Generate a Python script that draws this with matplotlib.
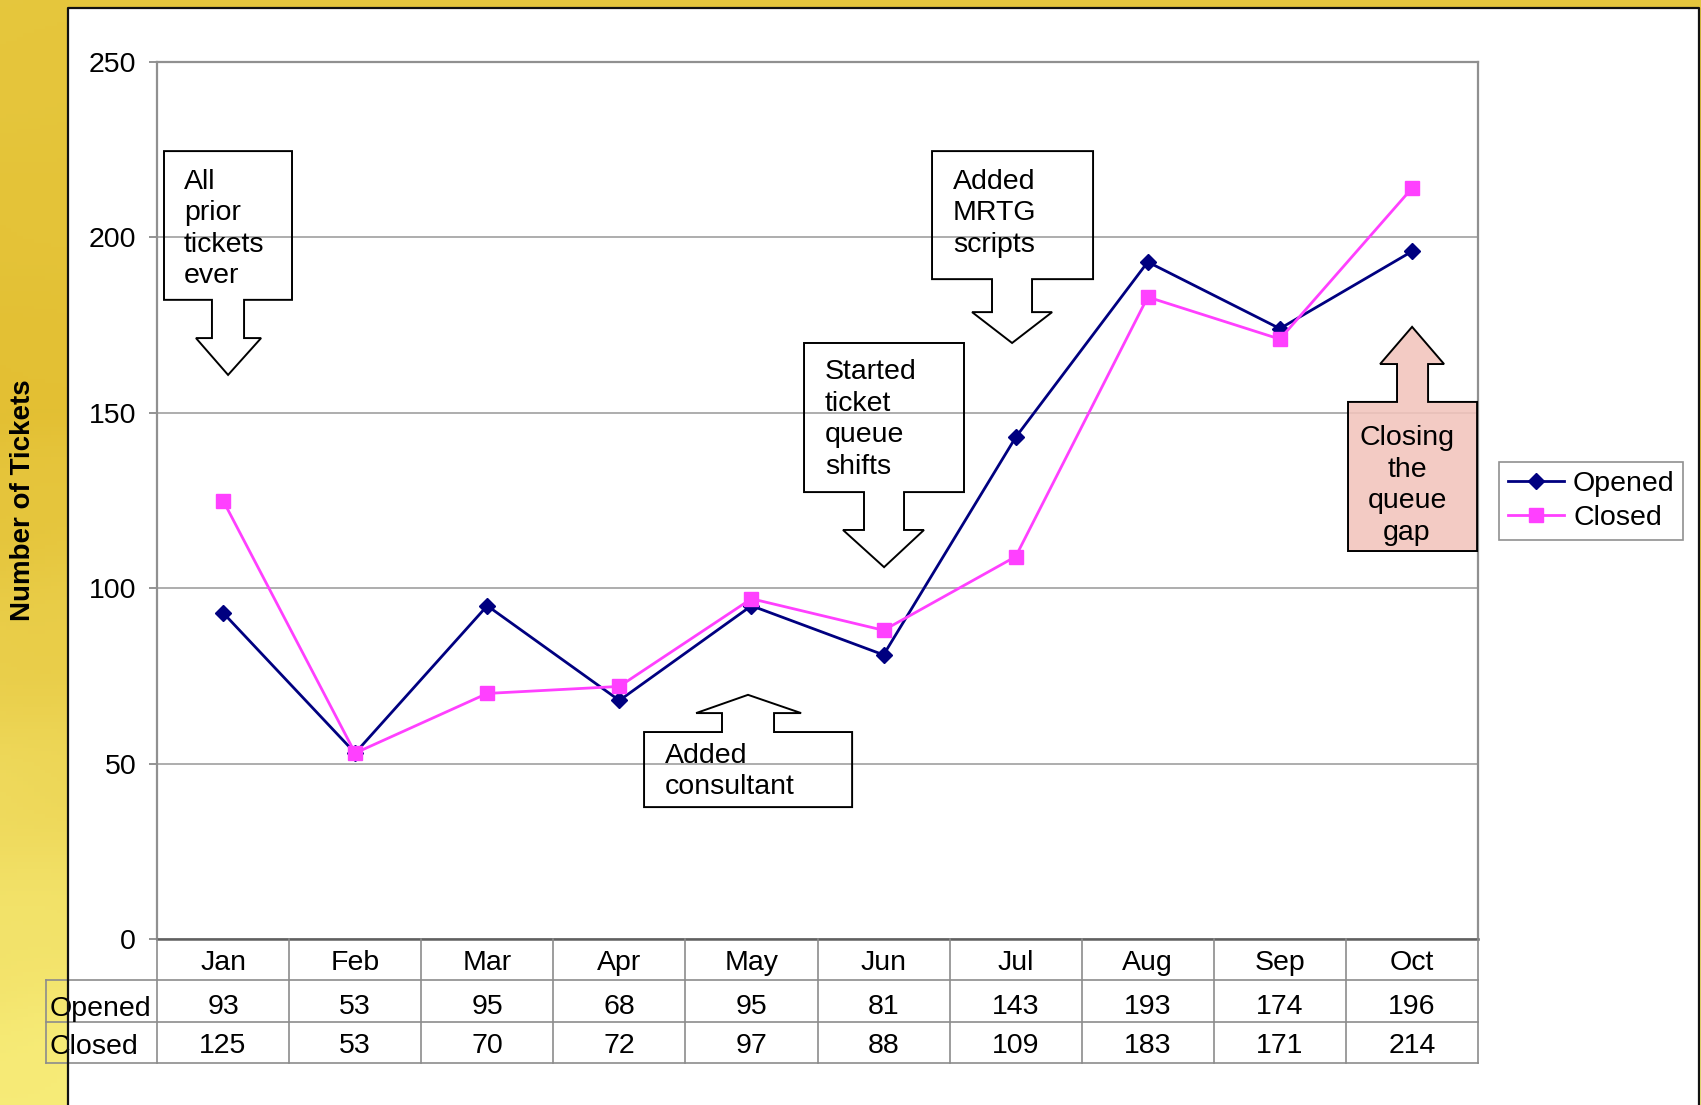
import numpy as np
import matplotlib.pyplot as plt
from matplotlib.patches import Polygon, Rectangle
from matplotlib.lines import Line2D

plt.rcParams['font.family'] = ['Liberation Sans', 'DejaVu Sans']

# data
months = ['Jan', 'Feb', 'Mar', 'Apr', 'May', 'Jun', 'Jul', 'Aug', 'Sep', 'Oct']
opened = [93, 53, 95, 68, 95, 81, 143, 193, 174, 196]
closed = [125, 53, 70, 72, 97, 88, 109, 183, 171, 214]
row_names = ['Opened', 'Closed']

# callout arrows, in data units (x = month index, y = tickets)
# box = (x0, x1, ybottom, ytop), shaft = (s0, s1), head = (h0, h1, y), tip = (x, y)
callouts = [
    dict(text='All\nprior\ntickets\never', box=(-0.447, 0.522, 182.2, 224.6),
         shaft=(-0.084, 0.159), head=(-0.205, 0.288, 171.3), tip=(0.038, 160.8),
         down=True, tx=-0.296, ty=219.6, ha='left', face='none'),
    dict(text='Added\nMRTG\nscripts', box=(5.367, 6.586, 188.1, 224.6),
         shaft=(5.821, 6.124), head=(5.670, 6.276, 178.7), tip=(5.973, 169.9),
         down=True, tx=5.526, ty=219.6, ha='left', face='none'),
    dict(text='Started\nticket\nqueue\nshifts', box=(4.398, 5.609, 127.4, 169.9),
         shaft=(4.852, 5.155), head=(4.693, 5.306, 116.6), tip=(5.004, 106.0),
         down=True, tx=4.557, ty=165.3, ha='left', face='none'),
    dict(text='Added\nconsultant', box=(3.187, 4.762, 37.6, 59.0),
         shaft=(3.777, 4.171), head=(3.581, 4.376, 64.4), tip=(3.974, 69.6),
         down=False, tx=3.346, ty=56.0, ha='left', face='none'),
    dict(text='Closing\nthe\nqueue\ngap', box=(8.516, 9.493, 110.6, 153.1),
         shaft=(8.887, 9.122), head=(8.759, 9.243, 163.9), tip=(9.001, 174.5),
         down=False, tx=8.963, ty=146.5, ha='center', face='#f2c4bc'),
]

W, H = 1701, 1105
fig = plt.figure(figsize=(W / 100, H / 100), dpi=100)
FS = 20.5


def fx(px):
    return px / W


def fy(py):
    return 1 - py / H


# yellow slide background
bg = fig.add_axes([0, 0, 1, 1], zorder=-10)
bg.axis('off')
yy, xx = np.mgrid[0:1:300j, 0:1:300j]
t = yy + 0.03 * np.sin(xx * 23 + yy * 17) * np.cos(yy * 31 - xx * 7)
stops = [0.0, 0.38, 1.0]
cols = np.array([[0.90, 0.78, 0.24], [0.89, 0.75, 0.20], [0.97, 0.93, 0.48]])
img = np.stack([np.interp(t, stops, cols[:, k]) for k in range(3)], axis=-1)
bg.imshow(np.clip(img, 0, 1), extent=[0, 1, 0, 1], aspect='auto')

# white panel with dark border
fig.add_artist(Rectangle((fx(68), 0), fx(1699) - fx(68), fy(8), transform=fig.transFigure,
                         facecolor='white', edgecolor='none', zorder=-5))
fig.add_artist(Line2D([fx(68), fx(68), fx(1699), fx(1699)], [0, fy(8), fy(8), 0],
                      transform=fig.transFigure, color='#111111', lw=1.6, zorder=50))

ax = fig.add_axes([fx(157), fy(939), fx(1478) - fx(157), fy(62) - fy(939)])
ax.set_facecolor('none')
x = np.arange(len(months))
ax.plot(x, opened, color='#000080', marker='D', ms=8, lw=2.0, label='Opened', zorder=4)
ax.plot(x, closed, color='#ff40ff', marker='s', ms=10, lw=2.0, label='Closed', zorder=5)
ax.set_xlim(-0.5, 9.5)
ax.set_ylim(0, 250)
ax.set_yticks(range(0, 251, 50))
ax.set_xticks([])
ax.yaxis.grid(True, color='#a0a0a0', lw=1.2)
ax.set_axisbelow(True)
ax.tick_params(axis='y', length=6, width=1.2, color='#808080', labelsize=FS, pad=9)
for s in ['left', 'top', 'right']:
    ax.spines[s].set_color('#909090')
    ax.spines[s].set_linewidth(1.6)
ax.spines['bottom'].set_color('#606060')
ax.spines['bottom'].set_linewidth(1.8)

# callouts
for c in callouts:
    x0, x1, yb, yt = c['box']
    s0, s1 = c['shaft']
    h0, h1, hy = c['head']
    tx, ty = c['tip']
    if c['down']:
        pts = [(x0, yt), (x1, yt), (x1, yb), (s1, yb), (s1, hy), (h1, hy), (tx, ty),
               (h0, hy), (s0, hy), (s0, yb), (x0, yb)]
    else:
        pts = [(x0, yb), (x0, yt), (s0, yt), (s0, hy), (h0, hy), (tx, ty), (h1, hy),
               (s1, hy), (s1, yt), (x1, yt), (x1, yb)]
    alpha = 0.88 if c['face'] != 'none' else 1
    ax.add_patch(Polygon(pts, closed=True, facecolor=c['face'], edgecolor='none',
                         alpha=alpha, zorder=6, clip_on=False))
    ax.add_patch(Polygon(pts, closed=True, facecolor='none', edgecolor='black',
                         lw=1.4, zorder=7, clip_on=False))
    ax.text(c['tx'], c['ty'], c['text'], ha=c['ha'], va='top', fontsize=FS,
            linespacing=1.28, multialignment=c['ha'], zorder=8)

# data table under the chart
tab = fig.add_axes([fx(46), fy(1063), fx(1478) - fx(46), fy(939) - fy(1063)])
xl = -0.5 - (157 - 46) / 132.1
tab.set_xlim(xl, 9.5)
tab.set_ylim(3, 0)
tab.axis('off')
gc = '#8c8c8c'
for yv in [1, 2, 3]:
    tab.plot([xl, 9.5], [yv, yv], color=gc, lw=1.2, clip_on=False)
tab.plot([xl, xl], [1, 3], color=gc, lw=1.2, clip_on=False)
for i in range(len(months) + 1):
    tab.plot([i - 0.5, i - 0.5], [0, 3], color=gc, lw=1.2, clip_on=False)
for i, m in enumerate(months):
    tab.text(i, 0.58, m, ha='center', va='center', fontsize=FS)
    tab.text(i, 1.64, str(opened[i]), ha='center', va='center', fontsize=FS)
    tab.text(i, 2.59, str(closed[i]), ha='center', va='center', fontsize=FS)
for r, name in enumerate(row_names):
    tab.text(xl + 0.03, 1.69 + r * 0.93, name, ha='left', va='center', fontsize=FS)

leg = ax.legend(loc='upper left', bbox_to_anchor=(fx(1499), fy(462)), bbox_transform=fig.transFigure,
                fontsize=FS, frameon=True, fancybox=False, edgecolor='#909090', framealpha=1,
                borderpad=0.3, handlelength=2.0, handletextpad=0.3, labelspacing=0.3,
                borderaxespad=0)
leg.get_frame().set_linewidth(1.2)

fig.text(fx(23), fy(500), 'Number of Tickets', rotation=90, fontsize=20, fontweight='bold',
         ha='center', va='center')

fig.savefig('out.png', dpi=100)
